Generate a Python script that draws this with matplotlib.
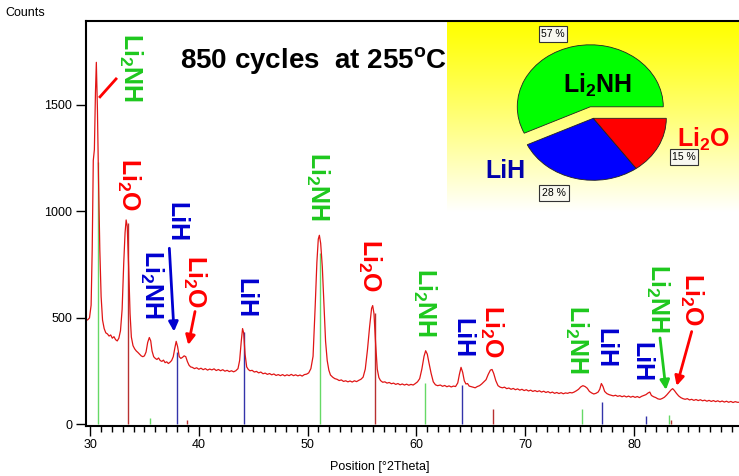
import numpy as np
import matplotlib.pyplot as plt
from matplotlib.ticker import MultipleLocator

plt.rcParams['font.family'] = ['Liberation Sans', 'DejaVu Sans']
plt.rcParams['mathtext.fontset'] = 'custom'
plt.rcParams['mathtext.rm'] = 'Liberation Sans:bold'
plt.rcParams['mathtext.it'] = 'Liberation Sans:bold'
plt.rcParams['mathtext.bf'] = 'Liberation Sans:bold'

# measured scan: position [deg 2theta] and counts
two_theta = [29.65, 29.80, 29.95, 30.10, 30.20, 30.30, 30.40, 30.50, 30.58, 30.68,
             30.78, 30.90, 31.02, 31.15, 31.30, 31.45, 31.60, 31.75, 31.90, 32.05,
             32.20, 32.35, 32.50, 32.65, 32.80, 32.95, 33.10, 33.22, 33.32, 33.42,
             33.55, 33.68, 33.80, 33.95, 34.10, 34.25, 34.40, 34.55, 34.70, 34.85,
             35.00, 35.15, 35.30, 35.45, 35.58, 35.70, 35.85, 36.00, 36.15, 36.30,
             36.45, 36.60, 36.75, 36.90, 37.05, 37.20, 37.35, 37.50, 37.65, 37.80,
             37.92, 38.05, 38.20, 38.35, 38.50, 38.65, 38.80, 38.95, 39.10, 39.25,
             39.40, 39.60, 39.80, 40.00, 40.20, 40.40, 40.60, 40.80, 41.00, 41.20,
             41.40, 41.60, 41.80, 42.00, 42.20, 42.40, 42.60, 42.80, 43.00, 43.20,
             43.40, 43.60, 43.75, 43.90, 44.02, 44.12, 44.25, 44.40, 44.55, 44.70,
             44.90, 45.10, 45.30, 45.50, 45.70, 45.90, 46.10, 46.30, 46.50, 46.70,
             46.90, 47.10, 47.30, 47.50, 47.70, 47.90, 48.10, 48.30, 48.50, 48.70,
             48.90, 49.10, 49.30, 49.50, 49.70, 49.90, 50.10, 50.30, 50.50, 50.70,
             50.85, 50.98, 51.08, 51.20, 51.35, 51.50, 51.65, 51.80, 51.95, 52.10,
             52.30, 52.50, 52.70, 52.90, 53.10, 53.30, 53.50, 53.70, 53.90, 54.10,
             54.30, 54.50, 54.70, 54.90, 55.10, 55.30, 55.50, 55.70, 55.88, 55.98,
             56.10, 56.25, 56.40, 56.55, 56.70, 56.90, 57.10, 57.30, 57.50, 57.70,
             57.90, 58.10, 58.30, 58.50, 58.70, 58.90, 59.10, 59.30, 59.50, 59.70,
             59.90, 60.10, 60.30, 60.50, 60.70, 60.85, 61.00, 61.15, 61.35, 61.55,
             61.75, 61.95, 62.20, 62.40, 62.60, 62.80, 63.00, 63.20, 63.40, 63.60,
             63.80, 63.95, 64.10, 64.25, 64.40, 64.55, 64.70, 64.85, 65.00, 65.20,
             65.40, 65.60, 65.80, 66.00, 66.20, 66.40, 66.60, 66.80, 66.95, 67.10,
             67.30, 67.50, 67.70, 67.90, 68.10, 68.30, 68.50, 68.70, 68.90, 69.10,
             69.30, 69.50, 69.70, 69.90, 70.10, 70.30, 70.50, 70.70, 70.90, 71.10,
             71.30, 71.50, 71.70, 71.90, 72.10, 72.30, 72.50, 72.70, 72.90, 73.10,
             73.30, 73.50, 73.70, 73.90, 74.10, 74.30, 74.50, 74.70, 74.90, 75.10,
             75.30, 75.50, 75.70, 75.90, 76.10, 76.30, 76.50, 76.70, 76.85, 77.00,
             77.15, 77.30, 77.50, 77.70, 77.90, 78.10, 78.30, 78.50, 78.70, 78.90,
             79.10, 79.30, 79.50, 79.70, 79.90, 80.10, 80.30, 80.50, 80.70, 80.90,
             81.10, 81.30, 81.45, 81.60, 81.80, 82.00, 82.20, 82.40, 82.60, 82.80,
             83.00, 83.20, 83.40, 83.55, 83.70, 83.90, 84.10, 84.30, 84.50, 84.70,
             84.90, 85.10, 85.30, 85.50, 85.70, 85.90, 86.10, 86.30, 86.50, 86.70,
             86.90, 87.10, 87.30, 87.50, 87.70, 87.90, 88.10, 88.30, 88.50, 88.70,
             88.90, 89.10, 89.30, 89.50, 89.65]
counts = [488, 492, 500, 560, 820, 1240, 1290, 1560, 1700, 1480,
          1150, 820, 600, 490, 450, 430, 425, 415, 420, 405,
          412, 398, 392, 405, 440, 540, 760, 900, 960, 930,
          740, 520, 410, 370, 355, 345, 338, 330, 322, 318,
          322, 340, 385, 408, 392, 345, 318, 310, 305, 312,
          300, 296, 302, 290, 294, 286, 292, 300, 318, 360,
          390, 365, 318, 310, 315, 322, 318, 295, 278, 270,
          268, 262, 266, 259, 264, 257, 262, 255, 260, 256,
          261, 253, 258, 252, 257, 250, 254, 248, 252, 247,
          252, 262, 300, 390, 450, 430, 330, 270, 258, 252,
          254, 246, 249, 242, 246, 238, 241, 235, 239, 233,
          237, 230, 234, 229, 234, 228, 233, 229, 235, 229,
          233, 228, 232, 227, 234, 236, 242, 262, 320, 560,
          760, 870, 888, 850, 740, 560, 390, 300, 255, 232,
          222, 215, 212, 206, 209, 202, 205, 200, 204, 199,
          205, 201, 207, 212, 222, 260, 350, 460, 545, 558,
          520, 380, 260, 220, 206, 198, 200, 194, 197, 191,
          194, 188, 192, 186, 190, 185, 189, 184, 188, 185,
          192, 200, 215, 260, 320, 346, 330, 290, 240, 200,
          186, 182, 185, 179, 183, 177, 181, 176, 180, 178,
          195, 235, 268, 245, 205, 190, 192, 180, 178, 175,
          172, 178, 182, 190, 200, 210, 235, 255, 258, 240,
          205, 182, 175, 172, 175, 168, 171, 165, 169, 163,
          167, 161, 165, 159, 163, 157, 161, 155, 159, 154,
          158, 152, 156, 150, 154, 148, 152, 146, 150, 145,
          149, 144, 148, 146, 150, 148, 152, 158, 165, 176,
          182, 178, 170, 155, 148, 143, 146, 152, 165, 192,
          178, 155, 145, 140, 137, 134, 137, 132, 135, 130,
          134, 129, 133, 128, 132, 127, 131, 126, 132, 136,
          140, 148, 152, 136, 130, 126, 120, 118, 122, 128,
          138, 150, 162, 168, 160, 146, 134, 126, 121, 118,
          121, 115, 118, 113, 117, 112, 116, 111, 114, 109,
          113, 108, 112, 107, 111, 106, 110, 105, 109, 104,
          108, 103, 107, 104, 104]

# reference patterns (stick positions and heights)
li2nh_pos = [30.70, 35.55, 51.13, 60.83, 75.20, 83.24]
li2nh_int = [1234, 30, 804, 193, 71, 43]
lih_pos = [37.98, 44.16, 64.16, 77.03, 81.13]
lih_int = [342, 436, 185, 104, 40]
li2o_pos = [33.50, 38.90, 56.17, 67.00, 83.40]
li2o_int = [945, 21, 522, 71, 21]

# phase fractions
phase_names = [r'Li$_2$NH', 'LiH', r'Li$_2$O']
phase_pct = [57, 28, 15]

W, H = 739, 476
fig = plt.figure(figsize=(W / 100, H / 100), dpi=100)


def fx(px):
    return px / W


def fy(py):
    return 1 - py / H


ax = fig.add_axes([fx(86), fy(425.5), fx(739 - 86), (425.5 - 21) / H])
ax.set_xlim(29.63, 89.65)
ax.set_ylim(-5, 1894)

# yellow fading panel behind the phase pie
grad = np.linspace(0, 1, 256) ** 1.1
img = np.ones((256, 2, 3))
img[:, :, 2] = grad[:, None]
ax.imshow(img, extent=[62.81, 89.65, 998, 1894], aspect='auto', zorder=0.5,
          origin='upper')

ax.vlines(li2nh_pos, 0, li2nh_int, color='#66d966', lw=1, zorder=1)
ax.vlines(lih_pos, 0, lih_int, color='#3333aa', lw=1, zorder=1)
ax.vlines(li2o_pos, 0, li2o_int, color='#b83030', lw=1, zorder=1)
ax.plot(two_theta, counts, color='#e01515', lw=0.9, zorder=2)

ax.set_xlim(29.63, 89.65)
ax.set_ylim(-5, 1894)

ax.set_xticks([30, 40, 50, 60, 70, 80])
ax.xaxis.set_minor_locator(MultipleLocator(1))
ax.set_yticks([0, 500, 1000, 1500])
ax.tick_params(axis='both', which='major', direction='out', length=7, width=1,
               labelsize=9, pad=3)
ax.tick_params(axis='x', which='minor', direction='out', length=4.5, width=1)
ax.spines['right'].set_visible(False)
for s in ['left', 'bottom', 'top']:
    ax.spines[s].set_linewidth(1.5)

green = '#1ec81e'
red = '#ff0000'
blue = '#0000d0'
peak_labels = [
    (r'Li$_2$NH', 33.72, 1674, green),
    (r'Li$_2$O', 33.54, 1124, red),
    ('LiH', 37.90, 948, blue),
    (r'Li$_2$NH', 35.70, 655, blue),
    (r'Li$_2$O', 39.65, 671, red),
    ('LiH', 44.29, 594, blue),
    (r'Li$_2$NH', 50.96, 1115, green),
    (r'Li$_2$O', 55.74, 744, red),
    (r'Li$_2$NH', 60.79, 573, green),
    ('LiH', 64.24, 406, blue),
    (r'Li$_2$O', 66.95, 437, red),
    (r'Li$_2$NH', 74.76, 397, green),
    ('LiH', 77.33, 359, blue),
    ('LiH', 80.69, 293, blue),
    (r'Li$_2$NH', 82.21, 589, green),
    (r'Li$_2$O', 85.33, 585, red),
]
for s, x, y, c in peak_labels:
    ax.text(x, y, s, rotation=270, ha='center', va='center', fontsize=18,
            fontweight='bold', color=c, zorder=3)

arrows = [
    ((37.29, 827), (37.72, 436), blue),
    ((39.65, 530), (39.03, 373), red),
    ((82.39, 406), (82.94, 162), green),
    ((85.30, 436), (83.92, 181), red),
]
for start, end, c in arrows:
    ax.annotate('', xy=end, xytext=start, zorder=3,
                arrowprops=dict(arrowstyle='-|>', color=c, lw=2,
                                mutation_scale=14, shrinkA=0, shrinkB=0))
ax.plot([30.92, 32.39], [1538, 1622], color=red, lw=2, zorder=3)

fig.text(fx(180), fy(60), r'850 cycles  at 255$^\mathrm{o}$C', fontsize=20,
         fontweight='bold', ha='left', va='center')
fig.text(fx(5), fy(13), 'Counts', fontsize=9, ha='left', va='center')
fig.text(fx(380), fy(467), 'Position [\u00b02Theta]', fontsize=9,
         ha='center', va='center')

# phase fraction pie (elliptical, Li2NH slice pulled out)
cx, cy, rx, ry = 593.3, 118.3, 73, 62
pax = fig.add_axes([fx(cx - 100), fy(cy + 100), fx(200), 200 / H])
pax.pie(phase_pct, colors=['#00ff00', '#0000ff', '#ff0000'], startangle=0,
        counterclock=True, explode=[0.19, 0, 0],
        wedgeprops=dict(edgecolor='#222222', linewidth=0.6))
pax.set_aspect('auto')
pax.set_xlim(-100 / rx, 100 / rx)
pax.set_ylim(-100 / ry, 100 / ry)
pax.axis('off')

fig.text(fx(598), fy(85), phase_names[0], fontsize=18, fontweight='bold',
         color='black', ha='center', va='center')
fig.text(fx(505), fy(171), phase_names[1], fontsize=18, fontweight='bold',
         color='#0000aa', ha='center', va='center')
fig.text(fx(704), fy(139), phase_names[2], fontsize=18, fontweight='bold',
         color=red, ha='center', va='center')

box = dict(boxstyle='square,pad=0.25', fc='#f8f8f0', ec='#333333', lw=0.8)
pct_pos = [(553, 34), (554, 193), (684, 157)]
for v, (px, py) in zip(phase_pct, pct_pos):
    fig.text(fx(px), fy(py), f'{v} %', fontsize=7.5, ha='center', va='center',
             bbox=box)

fig.savefig('out.png', dpi=100)
